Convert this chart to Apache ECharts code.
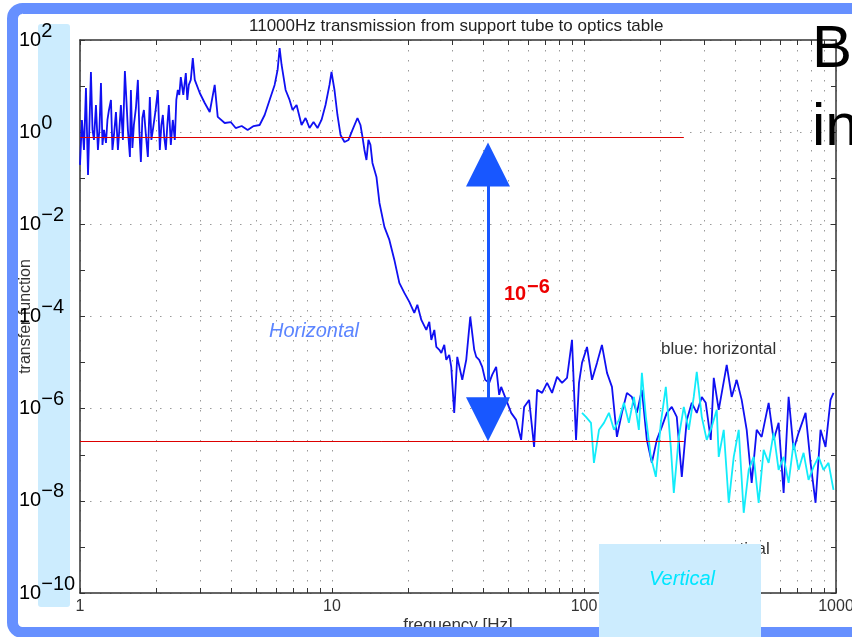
<!DOCTYPE html>
<html><head><meta charset="utf-8">
<script src="https://cdn.jsdelivr.net/npm/echarts@6/dist/echarts.min.js"></script>
<style>html,body{margin:0;padding:0;background:#fff}#c{width:852px;height:637px}</style>
</head><body><div id="c"></div>
<script>
// ---- data ----
const titleText = '11000Hz transmission from support tube to optics table';

// blue: horizontal transfer function
const freqH = [
  1.00, 1.018, 1.037, 1.056, 1.076, 1.105, 1.121, 1.136, 1.157, 1.178,
  1.195, 1.211, 1.228, 1.245, 1.268, 1.285, 1.303, 1.327, 1.345, 1.364,
  1.389, 1.414, 1.434, 1.453, 1.480, 1.507, 1.528, 1.549, 1.578, 1.592,
  1.614, 1.636, 1.667, 1.697, 1.721, 1.744, 1.768, 1.793, 1.826, 1.859,
  1.893, 1.920, 1.946, 1.991, 2.037, 2.074, 2.103, 2.132, 2.161, 2.191,
  2.221, 2.252, 2.293, 2.335, 2.378, 2.411, 2.444, 2.478, 2.512, 2.570,
  2.630, 2.666, 2.703, 2.752, 2.803,
  2.854, 2.987, 3.126, 3.272, 3.424, 3.520, 3.752, 3.963, 4.148, 4.381,
  4.627, 4.887, 5.163, 5.404, 5.655, 5.920, 6.084, 6.197, 6.310, 6.545,
  6.787, 6.976, 7.235, 7.572, 7.853, 8.144, 8.447, 8.762, 9.087, 9.425,
  9.774, 9.954, 10.23, 10.51, 10.81, 11.21, 11.63, 12.06, 12.62, 12.97,
  13.21, 13.45, 13.70, 13.95, 14.21, 14.47, 14.74, 15.01, 15.43, 16.14,
  16.89, 17.68, 18.50, 19.37, 20.27, 21.21, 21.81, 22.62, 23.67, 24.33,
  24.78, 25.47, 25.94, 26.66, 27.15, 27.90, 28.41, 29.19, 29.73, 30.55,
  31.41, 32.88, 34.10, 35.37, 36.68, 37.36, 38.38, 39.45, 40.55, 42.05,
  43.21, 44.82, 46.07, 46.92, 49.11, 51.40, 53.80, 56.30, 57.87, 60.56,
  63.39, 65.15, 68.19, 71.37, 74.69, 78.18, 81.82, 85.63, 89.62, 92.97,
  95.54, 98.2, 102.8, 107.6, 112.6, 117.8, 123.4, 129.1, 135.1, 141.4,
  148.0, 154.9, 162.1, 169.7, 177.6, 185.9, 194.5, 203.6, 213.1, 223.0,
  233.4, 244.4, 255.8, 267.7, 280.2, 293.3, 304.2, 318.4, 327.3, 342.5,
  368.4, 385.6, 403.6, 422.4, 442.2, 462.8, 484.4, 507.0, 540.4, 565.6,
  592.0, 619.7, 648.6, 678.8, 710.5, 757.3, 792.6, 829.6, 868.3, 908.8,
  951.1, 977.4
];
const valH = [
  0.195, 1.84, 0.411, 9.1, 0.118, 20.2, 1.12, 0.678, 3.89, 0.411,
  1.23, 11.7, 0.528, 1.12, 0.583, 1.84, 3.03, 5.0, 0.411, 0.87,
  2.74, 0.411, 1.23, 3.89, 0.678, 21.3, 5.0, 1.12, 0.29, 8.23,
  0.454, 1.43, 3.35, 13.6, 1.01, 0.226, 2.03, 3.03, 0.87, 0.29,
  5.8, 0.678, 1.12, 2.74, 8.23, 0.411, 1.43, 2.36, 0.749, 0.411,
  1.43, 3.89, 0.528, 1.84, 0.678, 5.0, 8.23, 6.41, 15.7, 6.41,
  19.2, 5.0, 10.6, 13.6, 40.7,
  13.6, 7.08, 4.3, 2.74, 10.6, 2.14, 1.58, 1.66, 1.23, 1.36,
  1.12, 1.36, 1.43, 2.36, 5.0, 10.6, 22.4, 67, 28.7, 8.23,
  5.0, 3.03, 3.89, 1.43, 2.03, 1.23, 1.66, 1.23, 1.84, 3.89,
  10.6, 20.2, 8.23, 2.36, 0.87, 0.613, 0.678, 1.12, 2.03, 1.43,
  0.787, 0.411, 0.249, 0.678, 0.528, 0.215, 0.151, 0.107, 0.0291, 0.00879,
  0.00459, 0.00169, 5.36e-4, 3.25e-4, 2.07e-4, 1.2e-4, 1.79e-4, 8.44e-5, 5.12e-5, 7.64e-5,
  3.11e-5, 5.12e-5, 2.19e-5, 1.89e-5, 1.62e-5, 2.42e-5, 1.15e-5, 1.47e-5, 8.07e-6, 8.11e-7,
  1.33e-5, 4.22e-6, 1.15e-5, 9.8e-5, 1.89e-5, 1.33e-5, 1.15e-5, 8.07e-6, 4.22e-6, 3.63e-6,
  5.41e-6, 8.07e-6, 1.99e-6, 2.97e-6, 1.55e-6, 8.11e-7, 5.71e-7, 2.1e-7, 1.09e-6, 1.55e-6,
  1.48e-7, 2.56e-6, 2.2e-6, 3.63e-6, 2.2e-6, 4.9e-6, 3.63e-6, 4.66e-6, 3.11e-5, 2.1e-7,
  3.63e-6, 9.85e-6, 2.19e-5, 4.22e-6, 9.85e-6, 2.42e-5, 5.98e-6, 2.97e-6, 2.44e-7, 8.11e-7,
  2.2e-6, 1.8e-6, 8.11e-7, 2.56e-6, 2.1e-7, 6.67e-8, 2.1e-7, 4.03e-7, 8.11e-7, 1.09e-6,
  6.64e-7, 3.32e-8, 5.71e-7, 1.34e-6, 8.11e-7, 1.8e-6, 1.34e-6, 2.1e-7, 4.66e-6, 9.42e-7,
  8.91e-6, 1.8e-6, 4.22e-6, 1.55e-6, 3.47e-7, 2.46e-8, 3.47e-7, 2.44e-7, 1.34e-6, 2.1e-7,
  4.92e-7, 1.49e-8, 1.8e-6, 1.28e-7, 2.99e-7, 8.11e-7, 6.67e-8, 9.06e-9, 3.47e-7, 1.48e-7,
  1.55e-6, 2.2e-6
];

// cyan: vertical transfer function
const freqV = [
  98.2, 101.8, 106.6, 109.5, 114.7, 120.0, 125.6, 131.5, 137.6, 144.0,
  150.7, 157.8, 165.1, 169.7, 176.0, 184.2, 192.8, 201.8, 211.2, 221.0,
  227.2, 237.8, 248.9, 260.5, 272.6, 280.2, 293.3, 306.9, 321.3, 336.3,
  342.5, 358.5, 375.3, 392.8, 411.1, 430.3, 450.4, 471.3, 493.3, 516.3,
  540.4, 565.6, 592.0, 619.7, 648.6, 678.8, 710.5, 743.6, 778.2, 814.6,
  852.6, 892.3, 933.9, 977.4
];
const valV = [
  8.11e-7, 6.64e-7, 4.92e-7, 6.67e-8, 3.47e-7, 4.92e-7, 8.11e-7, 3.47e-7, 5.71e-7, 1.34e-6,
  4.92e-7, 1.8e-6, 3.47e-7, 5.98e-6, 6.64e-7, 9.0e-8, 3.32e-8, 4.92e-7, 2.97e-6, 1.48e-7,
  1.49e-8, 2.44e-7, 1.09e-6, 3.47e-7, 1.8e-6, 6.28e-6, 6.64e-7, 2.1e-7, 4.03e-7, 9.42e-7,
  9.0e-8, 3.47e-7, 9.06e-9, 9.0e-8, 3.47e-7, 5.5e-9, 4.7e-8, 9.0e-8, 9.06e-9, 1.28e-7,
  6.67e-8, 2.99e-7, 4.7e-8, 9.0e-8, 2.46e-8, 1.81e-7, 4.7e-8, 1.1e-7, 2.86e-8, 5.47e-8,
  9.0e-8, 4.7e-8, 6.67e-8, 1.73e-8
];

// axis ticks / labels
const xTickValues = [1,2,3,4,5,6,7,8,9,10,20,30,40,50,60,70,80,90,100,200,300,400,500,600,700,800,900,1000];
const xLabelValues = [1, 10, 100, 1000];
const yTickValues = [1e-10,1e-9,1e-8,1e-7,1e-6,1e-5,1e-4,1e-3,1e-2,1e-1,1,10,100];
const yLabelValues = [1e-10,1e-8,1e-6,1e-4,1e-2,1,100];

// annotation values
const refHigh = 0.79, refLow = 1.97e-7, refStart = 1, refEnd = 249;
const arrowFreq = 41.6, arrowTop = 0.2, arrowBottom = 5.86e-7;

// ---- chart ----
const FONT = "'Liberation Sans', Arial, Helvetica, sans-serif";
const axisLineStyle = {color: '#333', width: 1.5};
const tickStyle = {color: '#333', width: 1};
const dotted = {type: [1.5, 8.5], color: '#9a9a9a', width: 1};

function supLabel(v) {
  const e = Math.round(Math.log10(v));
  const s = e < 0 ? '\u2212' + (-e) : String(e);
  return '{b|10}{s|' + s + '}';
}

const option = {
  animation: false,
  backgroundColor: '#ffffff',
  textStyle: {fontFamily: FONT},
  title: {
    text: titleText, left: 244, top: 13,
    textStyle: {fontSize: 17, fontWeight: 'normal', color: '#222', fontFamily: FONT}
  },
  grid: {left: 80, top: 40, width: 756, height: 553, containLabel: false, outerBoundsMode: 'none'},
  xAxis: [
    {
      type: 'log', logBase: 10, min: 1, max: 1000, position: 'bottom',
      axisLine: {show: true, lineStyle: axisLineStyle},
      axisTick: {show: true, inside: true, length: 5, customValues: xTickValues, lineStyle: tickStyle},
      axisLabel: {customValues: xLabelValues, formatter: v => String(v), fontSize: 16, color: '#333', margin: 6, fontFamily: FONT},
      splitLine: {show: true, lineStyle: dotted},
      name: 'frequency [Hz]', nameLocation: 'middle', nameGap: 24, nameMoveOverlap: false,
      nameTextStyle: {fontSize: 17, color: '#333', fontFamily: FONT}
    },
    {
      type: 'log', logBase: 10, min: 1, max: 1000, position: 'top',
      axisLine: {show: true, lineStyle: axisLineStyle},
      axisTick: {show: true, inside: true, length: 5, customValues: xTickValues, lineStyle: tickStyle},
      axisLabel: {show: false},
      splitLine: {show: false}
    }
  ],
  yAxis: [
    {
      type: 'log', logBase: 10, min: 1e-10, max: 1e2, position: 'left',
      axisLine: {show: true, lineStyle: axisLineStyle},
      axisTick: {show: true, inside: true, length: 5, customValues: yTickValues, lineStyle: tickStyle},
      axisLabel: {
        customValues: yLabelValues, formatter: supLabel, align: 'left', margin: 61,
        rich: {
          b: {fontSize: 20, color: '#000', fontFamily: FONT, lineHeight: 38, verticalAlign: 'middle'},
          s: {fontSize: 20, color: '#000', fontFamily: FONT, lineHeight: 20, verticalAlign: 'top'}
        }
      },
      splitLine: {show: false},
      name: 'transfer function', nameLocation: 'middle', nameRotate: 90, nameGap: 46, nameMoveOverlap: false,
      nameTextStyle: {fontSize: 16, color: '#333', fontFamily: FONT}
    },
    {
      type: 'log', logBase: 10, min: 1e-10, max: 1e2, position: 'right',
      axisLine: {show: true, lineStyle: axisLineStyle},
      axisTick: {show: true, inside: true, length: 5, customValues: yTickValues, lineStyle: tickStyle},
      axisLabel: {show: false},
      splitLine: {show: false}
    },
    {
      type: 'log', logBase: 10, min: 1e-10, max: 1e2, position: 'left',
      axisLine: {show: false},
      axisTick: {show: false, customValues: yLabelValues},
      axisLabel: {show: false},
      splitLine: {show: true, lineStyle: dotted}
    }
  ],
  series: [
    {
      name: 'blue: horizontal', type: 'line', xAxisIndex: 0, yAxisIndex: 0,
      data: freqH.map((f, i) => [f, valH[i]]),
      showSymbol: false, symbol: 'none', z: 3,
      lineStyle: {color: '#1010f2', width: 1.8}
    },
    {
      name: 'green: vertical', type: 'line', xAxisIndex: 0, yAxisIndex: 0,
      data: freqV.map((f, i) => [f, valV[i]]),
      showSymbol: false, symbol: 'none', z: 4,
      lineStyle: {color: '#12ecfa', width: 1.8}
    },
    {
      name: 'reference', type: 'line', xAxisIndex: 0, yAxisIndex: 0, data: [], z: 5,
      markLine: {
        silent: true, symbol: 'none', animation: false,
        label: {show: false},
        lineStyle: {color: '#dd0000', width: 1, type: 'solid'},
        emphasis: {disabled: true},
        data: [
          [{coord: [refStart, refHigh]}, {coord: [refEnd, refHigh]}],
          [{coord: [refStart, refLow]}, {coord: [refEnd, refLow]}]
        ]
      }
    },
    {
      name: 'arrow', type: 'line', xAxisIndex: 0, yAxisIndex: 0, data: [], z: 6,
      markLine: {
        silent: true, symbol: ['triangle', 'triangle'], symbolSize: 44, animation: false,
        label: {show: false},
        lineStyle: {color: '#1857ff', width: 3, type: 'solid'},
        emphasis: {disabled: true},
        data: [[{coord: [arrowFreq, arrowTop]}, {coord: [arrowFreq, arrowBottom]}]]
      }
    }
  ],
  graphic: [
    {type: 'rect', z: -10, silent: true, shape: {x: 38, y: 24, width: 32, height: 583, r: 3}, style: {fill: '#ccecfe'}},
    {type: 'text', z: 60, x: 504, y: 294, silent: true, style: {text: '10', fontSize: 20, fontWeight: 'bold', fontFamily: FONT, fill: '#ee0000', verticalAlign: 'middle'}},
    {type: 'text', z: 60, x: 527, y: 287, silent: true, style: {text: '\u22126', fontSize: 20, fontWeight: 'bold', fontFamily: FONT, fill: '#ee0000', verticalAlign: 'middle'}},
    {type: 'text', z: 60, x: 269, y: 331, silent: true, style: {text: 'Horizontal', fontSize: 20, fontStyle: 'italic', fontFamily: FONT, fill: '#5c85ff', verticalAlign: 'middle'}},
    {type: 'text', z: 60, x: 661, y: 349, silent: true, style: {text: 'blue: horizontal', fontSize: 17, fontFamily: FONT, fill: '#333', verticalAlign: 'middle'}},
    {type: 'text', z: 60, x: 663, y: 549, silent: true, style: {text: 'green: vertical', fontSize: 17, fontFamily: FONT, fill: '#333', verticalAlign: 'middle'}},
    {type: 'text', z: 60, x: 812, y: 50, silent: true, style: {text: 'B', fontSize: 60, fontFamily: FONT, fill: '#000', verticalAlign: 'middle'}},
    {type: 'text', z: 60, x: 812, y: 128, silent: true, style: {text: 'in', fontSize: 60, fontFamily: FONT, fill: '#000', verticalAlign: 'middle'}},
    {type: 'rect', z: 80, silent: true, shape: {x: 12.5, y: 8.5, width: 900, height: 624, r: 10}, style: {fill: 'none', stroke: '#6690ff', lineWidth: 11}},
    {type: 'rect', z: 100, silent: true, shape: {x: 599, y: 544, width: 162, height: 93}, style: {fill: '#ccecfe'}},
    {type: 'text', z: 101, x: 649, y: 579, silent: true, style: {text: 'Vertical', fontSize: 20, fontStyle: 'italic', fontFamily: FONT, fill: '#00e6ff', verticalAlign: 'middle'}}
  ]
};

const chart = echarts.init(document.getElementById('c'), null, {renderer: 'canvas'});
chart.setOption(option);
</script></body></html>
